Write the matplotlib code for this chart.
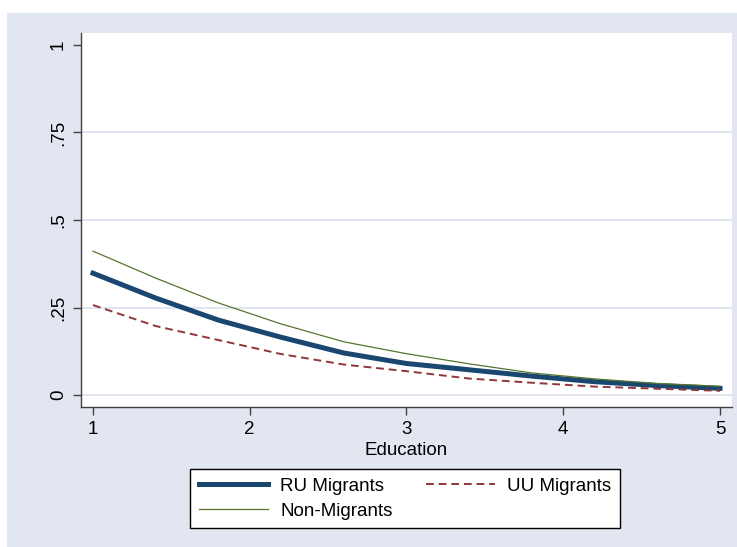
import matplotlib
matplotlib.use('Agg')
import matplotlib.pyplot as plt
from matplotlib.patches import Rectangle

plt.rcParams['font.family'] = ['Liberation Sans', 'DejaVu Sans']

education = [1.0, 1.4, 1.8, 2.2, 2.6, 3.0, 3.4, 3.8, 4.2, 4.6, 5.0]
ru_migrants = [0.348, 0.277, 0.214, 0.165, 0.120, 0.090, 0.072, 0.054, 0.038, 0.027, 0.019]
uu_migrants = [0.257, 0.197, 0.157, 0.117, 0.087, 0.068, 0.047, 0.035, 0.024, 0.018, 0.012]
non_migrants = [0.411, 0.334, 0.263, 0.203, 0.152, 0.118, 0.089, 0.063, 0.046, 0.033, 0.025]

x_ticks = [1, 2, 3, 4, 5]
y_ticks = [0, 0.25, 0.5, 0.75, 1]
y_labels = ['0', '.25', '.5', '.75', '1']

bg = '#e1e6f0'
fig = plt.figure(figsize=(7.37, 5.47), dpi=100)
fig.patch.set_facecolor('white')
fig.patches.append(Rectangle((7 / 737, 0), 1, 1 - 13 / 547, transform=fig.transFigure,
                             facecolor=bg, edgecolor='none', zorder=-10))

ax = fig.add_axes([81 / 737, 1 - 407 / 547, (732 - 81) / 737, (407 - 33) / 547])
ax.set_facecolor('white')

ax.plot(education, ru_migrants, color='#1a476f', lw=3.6, label='RU Migrants', zorder=3)
ax.plot(education, uu_migrants, color='#90353b', lw=1.4, dashes=(4, 2.5), label='UU Migrants', zorder=3)
ax.plot(education, non_migrants, color='#55752f', lw=0.9, label='Non-Migrants', zorder=3)

ax.set_xlim(1 - 12 / 156.75, 5 + 12 / 156.75)
ax.set_ylim(-12 / 350, 1 + 12 / 350)
ax.set_xticks(x_ticks)
ax.set_yticks(y_ticks)
ax.set_yticklabels(y_labels, rotation=90, va='center')

ax.yaxis.grid(True, color='#dde4ef', lw=1.3)
ax.yaxis.get_gridlines()[-1].set_visible(False)
ax.set_axisbelow(True)

for s in ['top', 'right']:
    ax.spines[s].set_visible(False)
for s in ['left', 'bottom']:
    ax.spines[s].set_color('#404040')
    ax.spines[s].set_linewidth(1.0)
ax.tick_params(axis='both', direction='out', length=6, width=1, color='#404040',
               labelsize=13.5, labelcolor='black')
ax.tick_params(axis='y', pad=4)
ax.tick_params(axis='x', pad=4)

ax.set_xlabel('Education', fontsize=13.5, labelpad=3)

handles, labels = ax.get_legend_handles_labels()
order = [0, 2, 1]
leg = fig.legend([handles[i] for i in order], [labels[i] for i in order], ncol=2,
                 loc='center', bbox_to_anchor=(405 / 737, 1 - 498.5 / 547),
                 fontsize=13.5, frameon=True, fancybox=False, framealpha=1,
                 edgecolor='black', handlelength=3.7, handletextpad=0.65,
                 columnspacing=1.75, labelspacing=0.42, borderpad=0.45)
leg.get_frame().set_linewidth(1.0)

fig.savefig('out.png', dpi=100)
